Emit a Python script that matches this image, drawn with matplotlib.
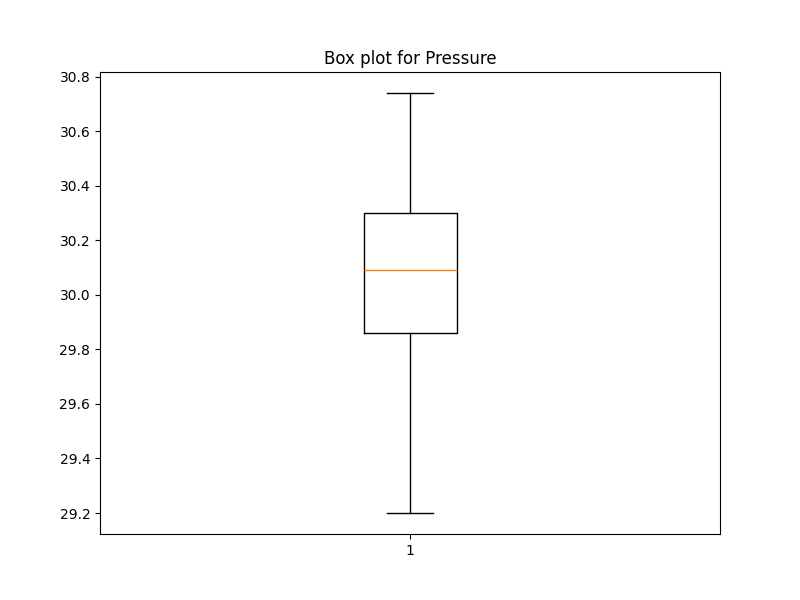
import matplotlib
matplotlib.use('Agg')
import matplotlib.pyplot as plt

# box summary
whisker_low = 29.20
q1 = 29.86
median = 30.09
q3 = 30.30
whisker_high = 30.74

stats = [{'whislo': whisker_low, 'q1': q1, 'med': median, 'q3': q3,
          'whishi': whisker_high, 'fliers': [], 'label': '1'}]

fig, ax = plt.subplots(figsize=(8, 6), dpi=100)
ax.bxp(stats)
ax.set_title('Box plot for Pressure')
plt.savefig('out.png')
